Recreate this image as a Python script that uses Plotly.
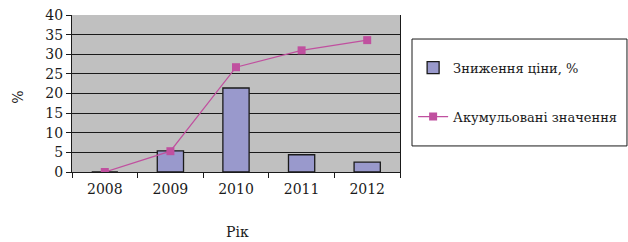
import plotly.graph_objects as go

years = ["2008", "2009", "2010", "2011", "2012"]
price_drop = [0, 5.4, 21.4, 4.4, 2.5]
accumulated = [0, 5.3, 26.7, 31.0, 33.6]

font_family = "DejaVu Serif"
ink = "#1a1a1a"

fig = go.Figure()
fig.add_trace(go.Bar(
    x=years, y=price_drop, name="Зниження ціни, %",
    marker=dict(color="#9999CC", line=dict(color=ink, width=1.3)),
    legendgroup="a",
))
fig.add_trace(go.Scatter(
    x=years, y=accumulated, name="Акумульовані значення",
    mode="lines+markers",
    line=dict(color="#C0509F", width=1.3),
    marker=dict(symbol="square", size=8, color="#C0509F"),
    legendgroup="b",
))

fig.update_layout(
    width=628, height=242,
    margin=dict(l=72, r=228, t=15, b=70, autoexpand=False),
    paper_bgcolor="white",
    plot_bgcolor="#C0C0C0",
    font=dict(family=font_family, size=14, color=ink),
    bargap=0.6,
    showlegend=True,
    legend=dict(
        x=1.04, y=0.76, xanchor="left", yanchor="top",
        borderwidth=0,
        bgcolor="rgba(0,0,0,0)",
        font=dict(family=font_family, size=13, color=ink),
        traceorder="grouped", tracegroupgap=29,
        itemwidth=30,
    ),
    shapes=[dict(
        type="rect", xref="paper", yref="paper",
        x0=1.0366, x1=1.692, y0=0.166, y1=0.847,
        line=dict(color=ink, width=1), fillcolor="rgba(0,0,0,0)",
    )],
    annotations=[
        dict(text="Рік", xref="paper", yref="paper", x=0.506, y=-0.382,
             xanchor="center", yanchor="middle", showarrow=False,
             font=dict(family=font_family, size=14, color=ink)),
        dict(text="%", xref="paper", yref="paper", x=-0.165, y=0.478,
             xanchor="center", yanchor="middle", showarrow=False, textangle=-90,
             font=dict(family=font_family, size=14, color=ink)),
    ],
)
fig.update_xaxes(
    type="category", automargin=False,
    showline=True, linecolor=ink, linewidth=1,
    ticks="outside", tickson="boundaries", ticklen=5, tickcolor=ink,
    showgrid=False,
    ticklabelstandoff=4,
    tickfont=dict(size=14),
)
fig.update_yaxes(
    range=[0, 40], dtick=5, automargin=False,
    showline=True, linecolor=ink, linewidth=1, mirror=True,
    ticks="outside", ticklen=5, tickcolor=ink,
    showgrid=True, gridcolor=ink, gridwidth=1,
    zeroline=False,
    tickfont=dict(size=14),
)

fig.write_html("out.html", config={"displayModeBar": False},
               post_script="document.body.style.margin='0px';")
